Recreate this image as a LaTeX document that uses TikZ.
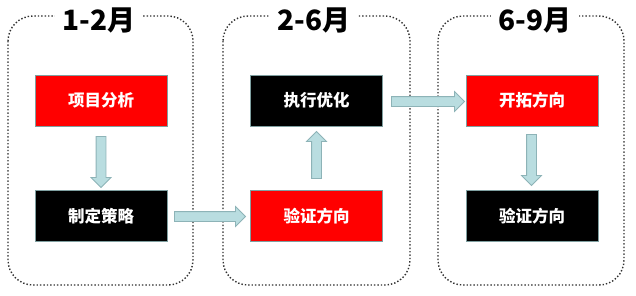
\documentclass[tikz,border=0pt]{standalone}
\usepackage{fontspec}
\newfontfamily\cjk{Noto Sans CJK SC}
\usetikzlibrary{shapes.arrows}
\definecolor{arrfill}{HTML}{B9DDE0}
\definecolor{arrdraw}{HTML}{8DB3B7}
\definecolor{boxedge}{HTML}{7F9FA0}
\definecolor{frame}{HTML}{303030}
\tikzset{
  frame/.style={draw=frame, line width=1.4pt, dotted, rounded corners=25pt},
  title/.style={fill=white, inner xsep=8pt, inner ysep=2pt, font=\cjk\bfseries\fontsize{28}{30}\selectfont},
  redbox/.style={draw=boxedge, line width=0.8pt, fill=red, text=white, minimum width=132pt, minimum height=51pt, inner sep=0pt, font=\cjk\bfseries\fontsize{16.5}{18}\selectfont},
  blackbox/.style={redbox, fill=black},
  blockarr/.style={single arrow, draw=arrdraw, fill=arrfill, line width=0.8pt, inner sep=4.5pt, single arrow head extend=5pt, single arrow tip angle=90, single arrow head indent=0pt, minimum height=#1}
}
\begin{document}
\begin{tikzpicture}[x=1pt,y=-1pt]
\useasboundingbox (0,0) rectangle (636,295);
% frames
\draw[frame] (8,16) rectangle (193,285);
\draw[frame] (223,16) rectangle (410,285);
\draw[frame] (438,16) rectangle (624,285);
\node[title] (t1) at (99,20) {1-2月};
\node[title] (t2) at (314,20) {2-6月};
\node[title] (t3) at (535,20) {6-9月};
% boxes
\node[redbox]   (a1) at (101,100.5) {项目分析};
\node[blackbox] (a2) at (101,216) {制定策略};
\node[blackbox] (b1) at (316.5,100.5) {执行优化};
\node[redbox]   (b2) at (316.5,216) {验证方向};
\node[redbox]   (c1) at (532,100.5) {开拓方向};
\node[blackbox] (c2) at (532,216) {验证方向};
% block arrows
\node[blockarr=51pt, shape border rotate=270] (r1) at (101,159.5) {};
\node[blockarr=71pt] (r2) at (207.5,216.5) {};
\node[blockarr=47pt, shape border rotate=90] (r3) at (316.5,157.5) {};
\node[blockarr=73pt] (r4) at (425.5,101.5) {};
\node[blockarr=51pt, shape border rotate=270] (r5) at (531.5,157.5) {};
\end{tikzpicture}
\end{document}
